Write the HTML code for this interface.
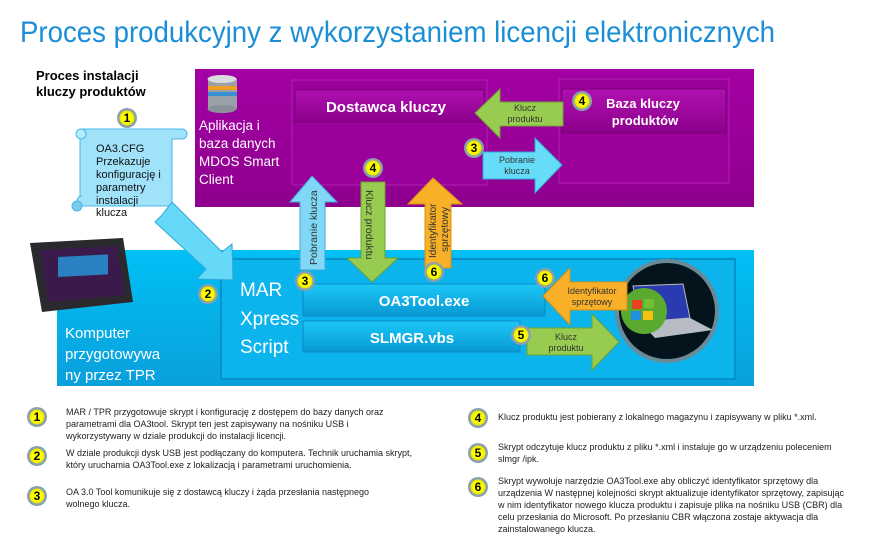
<!DOCTYPE html>
<html><head><meta charset="utf-8"><style>
body{margin:0;background:#fff;width:883px;height:540px;overflow:hidden;font-family:"Liberation Sans",sans-serif}
svg{display:block}
</style></head><body>
<svg width="883" height="540" viewBox="0 0 883 540" xmlns="http://www.w3.org/2000/svg" font-family="Liberation Sans, sans-serif">
<defs>
<linearGradient id="pur" x1="0" y1="0" x2="0" y2="1"><stop offset="0" stop-color="#a400a4"/><stop offset="1" stop-color="#8e008e"/></linearGradient>
<linearGradient id="blu" x1="0" y1="0" x2="0" y2="1"><stop offset="0" stop-color="#00c0f5"/><stop offset="1" stop-color="#0aa0dc"/></linearGradient>
<linearGradient id="bar" x1="0" y1="0" x2="0" y2="1"><stop offset="0" stop-color="#1cc8f8"/><stop offset="1" stop-color="#0898d4"/></linearGradient>
<linearGradient id="pbar" x1="0" y1="0" x2="0" y2="1"><stop offset="0" stop-color="#b010b0"/><stop offset="1" stop-color="#8c008c"/></linearGradient>
<radialGradient id="yel"><stop offset="0.6" stop-color="#ffff00"/><stop offset="1" stop-color="#e6e600"/></radialGradient>
<g id="num"><circle r="10" fill="#8aa0ac"/><circle r="7.5" fill="url(#yel)"/></g>
</defs>
<text x="20" y="42" font-size="30" fill="#1a8fd6" textLength="755" lengthAdjust="spacingAndGlyphs">Proces produkcyjny z wykorzystaniem licencji elektronicznych</text>

<!-- purple area -->
<rect x="195" y="69" width="559" height="138" fill="url(#pur)"/>
<rect x="292" y="80" width="195" height="105" fill="#9a009a" stroke="#b020b0"/>
<rect x="295" y="90" width="189" height="32" fill="url(#pbar)" stroke="#7a007a"/>
<text x="386" y="112" font-size="15" font-weight="bold" fill="#fff" text-anchor="middle">Dostawca kluczy</text>
<rect x="559" y="79" width="170" height="104" fill="#9a009a" stroke="#b020b0"/>
<rect x="562" y="89" width="164" height="44" fill="url(#pbar)" stroke="#7a007a"/>
<text x="643" y="108" font-size="13" font-weight="bold" fill="#fff" text-anchor="middle">Baza kluczy</text>
<text x="645" y="125" font-size="13" font-weight="bold" fill="#fff" text-anchor="middle">produktów</text>
<!-- db icon -->
<rect x="208" y="79" width="29" height="30" fill="#9aa0a8"/>
<ellipse cx="222" cy="79" rx="14.5" ry="4" fill="#d8dce0"/>
<rect x="208" y="86" width="29" height="4" fill="#f0a020"/><rect x="208" y="92" width="29" height="4" fill="#3a8fd0"/>
<ellipse cx="222" cy="109" rx="14.5" ry="4" fill="#8a9098"/>
<g font-size="13.5" fill="#fff"><text x="199" y="130">Aplikacja i</text><text x="199" y="148">baza danych</text><text x="199" y="166">MDOS Smart</text><text x="199" y="184">Client</text></g>

<!-- blue area -->
<rect x="57" y="250" width="697" height="136" fill="url(#blu)"/>
<rect x="221" y="259" width="514" height="120" fill="#0cb4ee" stroke="#0890c8" stroke-width="2"/>
<rect x="303" y="284" width="242" height="32" fill="url(#bar)" stroke="#0a88c0"/>
<text x="424" y="306" font-size="15" font-weight="bold" fill="#fff" text-anchor="middle">OA3Tool.exe</text>
<rect x="303" y="321" width="217" height="31" fill="url(#bar)" stroke="#0a88c0"/>
<text x="412" y="343" font-size="15" font-weight="bold" fill="#fff" text-anchor="middle">SLMGR.vbs</text>
<g font-size="19" fill="#fff"><text x="240" y="296">MAR</text><text x="240" y="325">Xpress</text><text x="240" y="353">Script</text></g>
<g font-size="15" fill="#fff"><text x="65" y="338">Komputer</text><text x="65" y="359">przygotowywa</text><text x="65" y="380">ny przez TPR</text></g>
<!-- laptop circle -->
<circle cx="667" cy="311" r="52" fill="#6a8a98"/><circle cx="667" cy="311" r="48" fill="#04141c"/>
<polygon points="633,286 683,284 690,318 640,322" fill="#2a3ab0" stroke="#bbb"/>
<polygon points="640,322 690,318 713,330 655,338" fill="#b8bcc4"/>
<circle cx="644" cy="311" r="23" fill="#5aaa30"/>
<rect x="632" y="300" width="10" height="9" fill="#e84020"/><rect x="644" y="299" width="10" height="9" fill="#70c030"/>
<rect x="631" y="311" width="10" height="9" fill="#2090e0"/><rect x="643" y="311" width="10" height="9" fill="#f8c010"/>

<!-- tablet -->
<polygon points="30,243 123,238 133,302 42,312" fill="#2a2a2e"/>
<polygon points="40,250 117,246 125,295 48,302" fill="#3a1a4a"/>
<rect x="58" y="260" width="50" height="20" fill="#2a80c0" transform="skewY(-3)"/>

<!-- scroll -->
<path d="M80,129 H182 a5,5 0 0 1 0,10 H172 V206 H82 a5,5 0 0 1 0,-10 H80 Z" fill="#a0e2fa" stroke="#48b8e8"/>
<circle cx="81" cy="134" r="5" fill="#b8ecfc" stroke="#48b8e8"/>
<circle cx="77" cy="206" r="5" fill="#78cce8" stroke="#48b8e8"/>
<g font-size="11" fill="#111"><text x="96" y="152">OA3.CFG</text><text x="96" y="165">Przekazuje</text><text x="96" y="178">konfigurację i</text><text x="96" y="191">parametry</text><text x="96" y="204">instalacji</text><text x="96" y="216">klucza</text></g>
<text x="36" y="80" font-size="13" font-weight="bold" fill="#000">Proces instalacji</text>
<text x="36" y="96" font-size="13" font-weight="bold" fill="#000">kluczy produktów</text>

<!-- big diagonal arrow -->
<polygon points="162,215 172,202 222,252 232,244 233,280 197,279 206,269 155,222" fill="#66d8f8" stroke="#30a8d8"/>

<!-- vertical arrows -->
<polygon points="300,270 300,202 290,202 312,176 337,202 325,202 325,270" fill="#80d8f6" stroke="#40a8d8"/>
<text transform="translate(317,265) rotate(-90)" font-size="10.5" fill="#333">Pobranie klucza</text>
<polygon points="361,182 385,182 385,258 398,258 372,282 347,258 361,258" fill="#98cc50" stroke="#70a030"/>
<text transform="translate(366,190) rotate(90)" font-size="10.5" fill="#333">Klucz produktu</text>
<polygon points="425,268 425,204 408,204 433,178 462,204 451,204 451,268" fill="#f8b028" stroke="#d89010"/>
<text transform="translate(436,258) rotate(-90)" font-size="10" fill="#333">Identyfikator</text>
<text transform="translate(448,252) rotate(-90)" font-size="10" fill="#333">sprzętowy</text>

<!-- horizontal arrows -->
<polygon points="563,102 563,126 500,126 500,138 475,113 500,89 500,102" fill="#98cc50" stroke="#70a030"/>
<text x="525" y="111" font-size="9" fill="#333" text-anchor="middle">Klucz</text><text x="525" y="122" font-size="9" fill="#333" text-anchor="middle">produktu</text>
<polygon points="483,152 535,152 535,138 562,165 535,193 535,179 483,179" fill="#66dcf8" stroke="#30a8d8"/>
<text x="517" y="163" font-size="9" fill="#333" text-anchor="middle">Pobranie</text><text x="517" y="174" font-size="9" fill="#333" text-anchor="middle">klucza</text>
<polygon points="627,282 627,310 570,310 570,325 543,296 570,268 570,282" fill="#f8b028" stroke="#d89010"/>
<text x="592" y="294" font-size="9" fill="#333" text-anchor="middle">Identyfikator</text><text x="592" y="305" font-size="9" fill="#333" text-anchor="middle">sprzętowy</text>
<polygon points="527,328 592,328 592,314 619,342 592,370 592,355 527,355" fill="#98cc50" stroke="#70a030"/>
<text x="566" y="340" font-size="9" fill="#333" text-anchor="middle">Klucz</text><text x="566" y="351" font-size="9" fill="#333" text-anchor="middle">produktu</text>

<!-- numbered circles -->
<g font-size="12" font-weight="bold" fill="#000" text-anchor="middle">
<use href="#num" x="127" y="118"/><text x="127" y="122">1</text>
<use href="#num" x="208" y="294"/><text x="208" y="298">2</text>
<use href="#num" x="305" y="281"/><text x="305" y="285">3</text>
<use href="#num" x="474" y="148"/><text x="474" y="152">3</text>
<use href="#num" x="373" y="168"/><text x="373" y="172">4</text>
<use href="#num" x="582" y="101"/><text x="582" y="105">4</text>
<use href="#num" x="521" y="335"/><text x="521" y="339">5</text>
<use href="#num" x="434" y="272"/><text x="434" y="276">6</text>
<use href="#num" x="545" y="278"/><text x="545" y="282">6</text>
</g>

<!-- legend -->
<g font-size="12" font-weight="bold" text-anchor="middle" fill="#000">
<use href="#num" x="37" y="417"/><text x="37" y="421">1</text>
<use href="#num" x="37" y="456"/><text x="37" y="460">2</text>
<use href="#num" x="37" y="496"/><text x="37" y="500">3</text>
<use href="#num" x="478" y="418"/><text x="478" y="422">4</text>
<use href="#num" x="478" y="453"/><text x="478" y="457">5</text>
<use href="#num" x="478" y="487"/><text x="478" y="491">6</text>
</g>
<g font-size="9" fill="#222">
<text x="66" y="415">MAR / TPR przygotowuje skrypt i konfigurację z dostępem do bazy danych oraz</text>
<text x="66" y="427">parametrami dla OA3tool. Skrypt ten jest zapisywany na nośniku USB i</text>
<text x="66" y="439">wykorzystywany w dziale produkcji do instalacji licencji.</text>
<text x="66" y="456">W dziale produkcji dysk USB jest podłączany do komputera. Technik uruchamia skrypt,</text>
<text x="66" y="468">który uruchamia OA3Tool.exe z lokalizacją i parametrami uruchomienia.</text>
<text x="66" y="495">OA 3.0 Tool komunikuje się z dostawcą kluczy i żąda przesłania następnego</text>
<text x="66" y="507">wolnego klucza.</text>
<text x="498" y="420">Klucz produktu jest pobierany z lokalnego magazynu i zapisywany w pliku *.xml.</text>
<text x="498" y="450">Skrypt odczytuje klucz produktu z pliku *.xml i instaluje go w urządzeniu poleceniem</text>
<text x="498" y="462">slmgr /ipk.</text>
<text x="498" y="484">Skrypt wywołuje narzędzie OA3Tool.exe aby obliczyć identyfikator sprzętowy dla</text>
<text x="498" y="496">urządzenia W następnej kolejności skrypt aktualizuje identyfikator sprzętowy, zapisując</text>
<text x="498" y="508">w nim identyfikator nowego klucza produktu i zapisuje plika na nośniku USB (CBR) dla</text>
<text x="498" y="520">celu przesłania do Microsoft. Po przesłaniu CBR włączona zostaje aktywacja dla</text>
<text x="498" y="532">zainstalowanego klucza.</text>
</g>
</svg>
</body></html>
